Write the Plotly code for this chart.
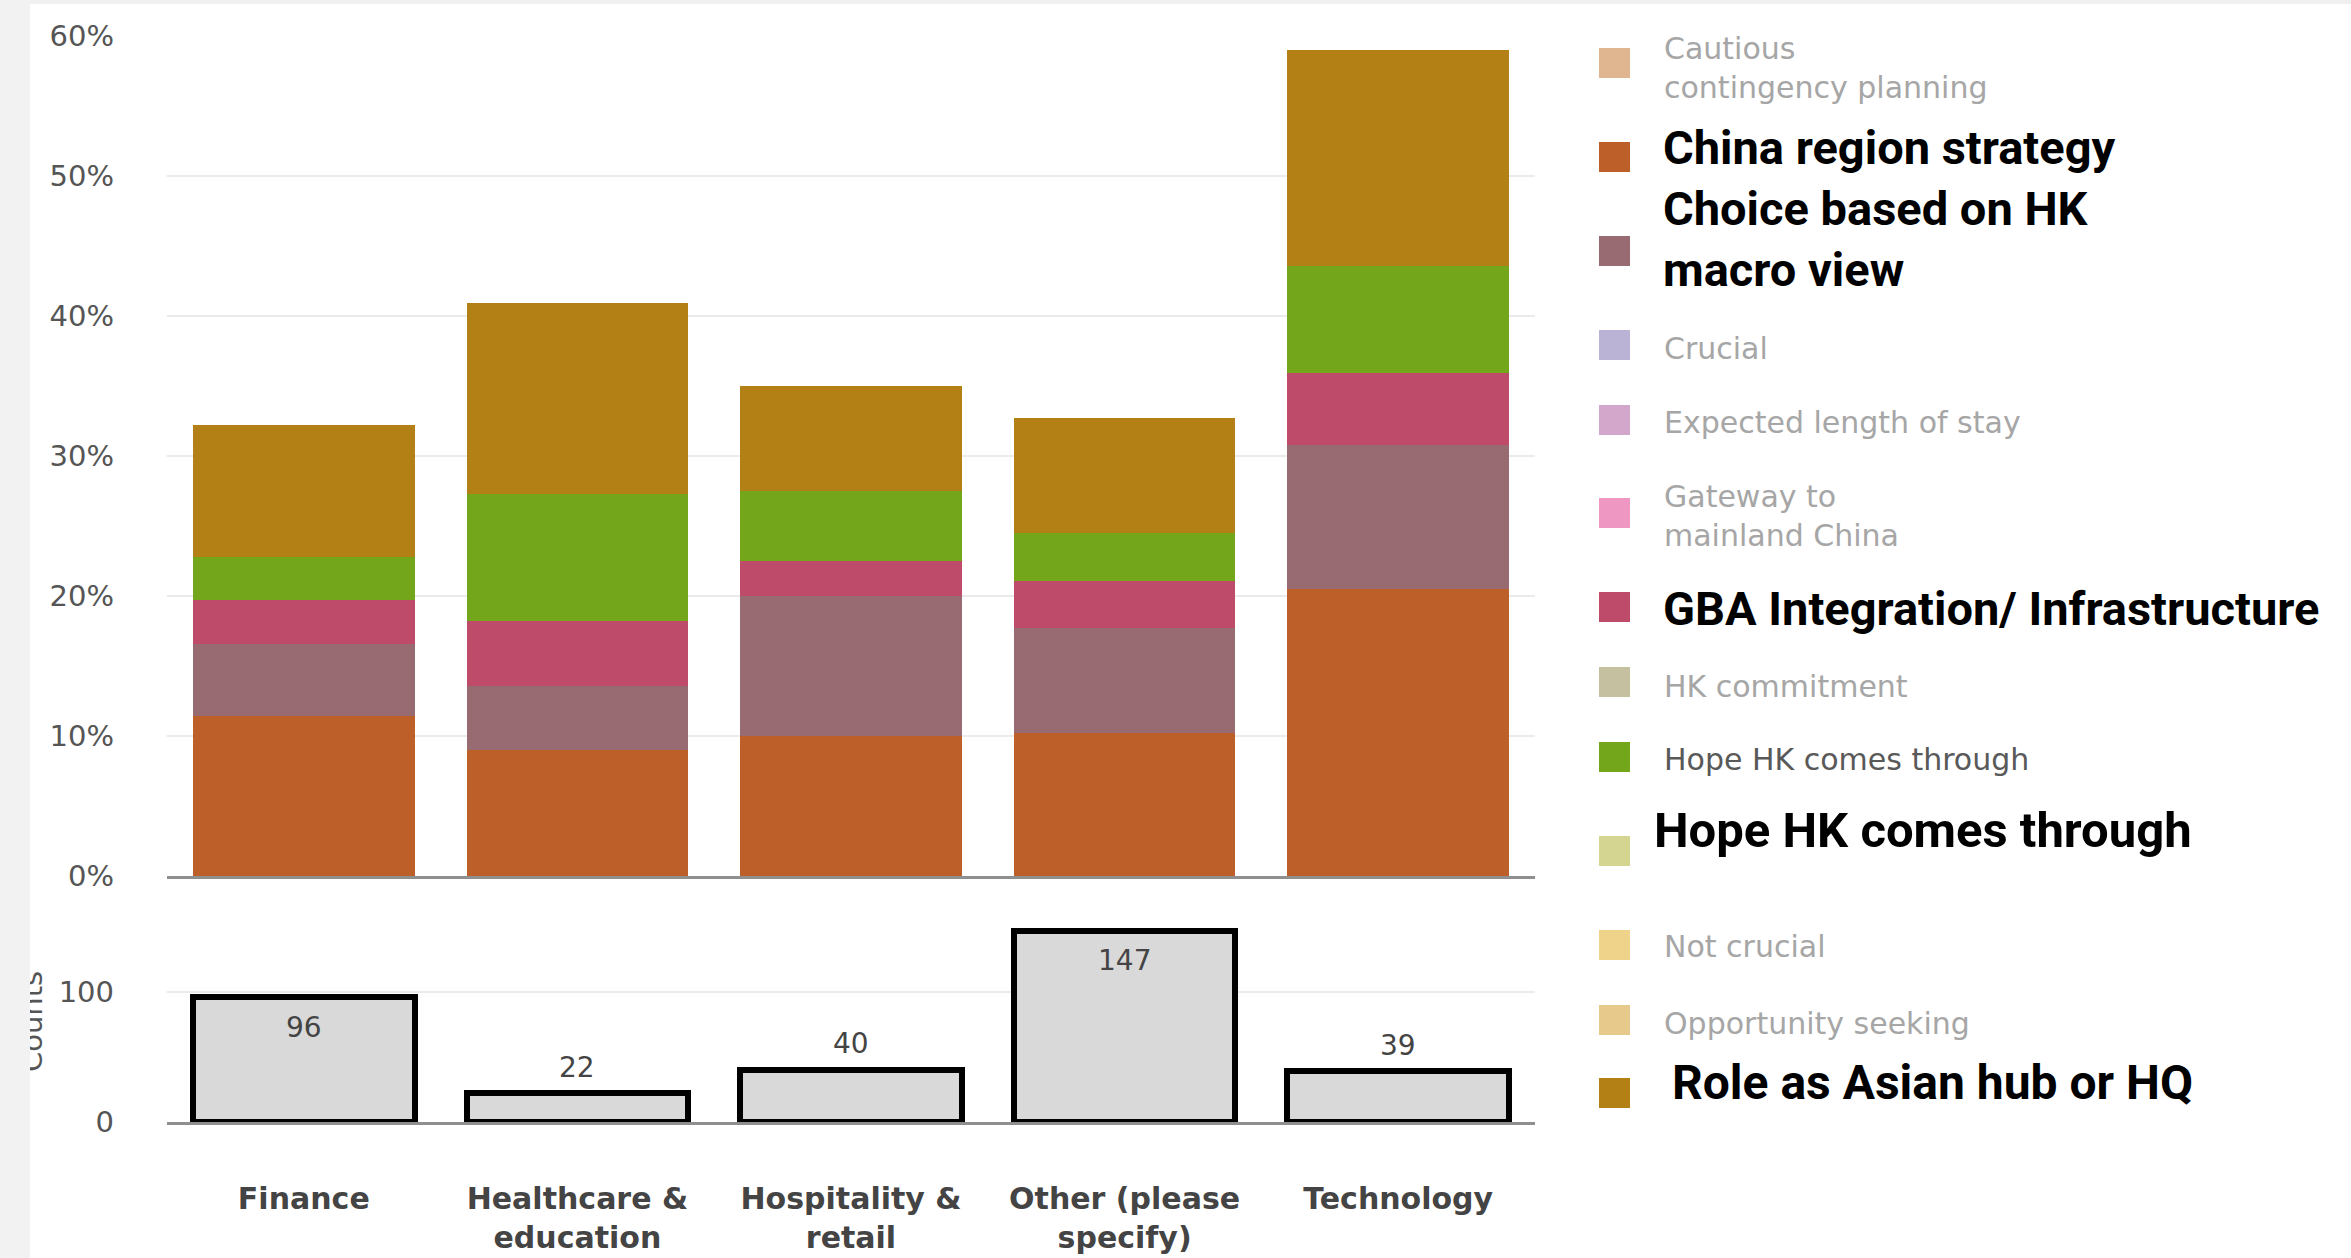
import plotly.graph_objects as go

# ---------------- data ----------------
categories = ["Finance", "Healthcare & education", "Hospitality & retail",
              "Other (please specify)", "Technology"]
tick_labels = ["Finance", "Healthcare &<br>education", "Hospitality &<br>retail",
               "Other (please<br>specify)", "Technology"]

china_region_strategy = [11.4, 9.0, 10.0, 10.2, 20.5]
choice_hk_macro = [5.2, 4.6, 10.0, 7.5, 10.3]
gba_integration = [3.1, 4.6, 2.5, 3.4, 5.1]
hope_hk = [3.1, 9.1, 5.0, 3.4, 7.7]
role_asian_hub = [9.4, 13.6, 7.5, 8.2, 15.4]
counts = [96, 22, 40, 147, 39]

series_names = ["China region strategy", "Choice based on HK macro view",
                "GBA Integration/ Infrastructure", "Hope HK comes through",
                "Role as Asian hub or HQ"]
series_values = [china_region_strategy, choice_hk_macro, gba_integration,
                 hope_hk, role_asian_hub]
series_colors = ["#bd5f28", "#986a72", "#bf4b6a", "#74a61b", "#b38016"]

legend_labels = ["Cautious<br>contingency planning", "China region strategy",
                 "Choice based on HK<br>macro view", "Crucial",
                 "Expected length of stay", "Gateway to<br>mainland China",
                 "GBA Integration/ Infrastructure", "HK commitment",
                 "Hope HK comes through", "Hope HK comes through",
                 "Not crucial", "Opportunity seeking", "Role as Asian hub or HQ"]
legend_colors = ["#dfb68f", "#bd5f28", "#986a72", "#bab3d6", "#d2a7cb", "#ee97c3",
                 "#bf4b6a", "#c5c09f", "#74a61b", "#d3d590", "#f0d38a", "#e8c98c",
                 "#b38016"]

# ---------------- layout geometry (pixels) ----------------
W, H = 2351, 1258
L, R, T, B = 167, 1535, 36, 1122
PW, PH = R - L, B - T


def px_x(px):
    return (px - L) / PW


def px_y(py):
    return (B - py) / PH


# legend styling (separate from data)
legend_swatch_y = [63, 157, 251, 345, 420, 513, 607, 682, 757, 851, 945, 1020, 1093]
legend_text_y = [68, 147, 239, 348, 422, 516, 608, 686, 759, 830, 946, 1023, 1082]
legend_text_x = [1663, 1662, 1662, 1663, 1663, 1663, 1662, 1663, 1663, 1653, 1663, 1663, 1671]
legend_style = ["muted", "bold", "bold", "muted", "muted", "muted", "bold", "muted",
                "dark", "bold", "muted", "muted", "bold"]
bold_sizes = {1: 47, 2: 47, 6: 47, 9: 49, 12: 48}

fig = go.Figure()

for name, vals, col in zip(series_names, series_values, series_colors):
    fig.add_trace(go.Bar(
        x=categories, y=vals, name=name, marker=dict(color=col, line=dict(width=0)),
        xaxis="x", yaxis="y", showlegend=False,
        hovertemplate="%{x}<br>" + name + ": %{y:.1f}%<extra></extra>"))

fig.add_trace(go.Bar(
    x=categories, y=counts, name="Counts", xaxis="x2", yaxis="y2", showlegend=False,
    marker=dict(color="#d9d9d9", line=dict(color="#000000", width=6)),
    hovertemplate="%{x}: %{y}<extra></extra>"))

tickfont = dict(family="DejaVu Sans", size=29, color="#555555")

fig.update_layout(
    width=W, height=H,
    margin=dict(l=L, r=W - R, t=T, b=H - B, autoexpand=False),
    paper_bgcolor="#ffffff", plot_bgcolor="#ffffff",
    barmode="stack", bargap=0.19,
    showlegend=False,
    xaxis=dict(domain=[0, 1], anchor="y", categoryorder="array", categoryarray=categories,
               showticklabels=False, showline=True, linecolor="#8f8f8f", linewidth=3,
               showgrid=False, ticks="", automargin=False),
    yaxis=dict(domain=[px_y(876), 1], anchor="x", range=[0, 60], dtick=10,
               ticksuffix="%", tickfont=tickfont, gridcolor="#ebebeb", gridwidth=2,
               zeroline=False, showline=False, ticklabelstandoff=52, automargin=False),
    xaxis2=dict(domain=[0, 1], anchor="y2", categoryorder="array", categoryarray=categories,
                tickvals=categories, ticktext=tick_labels, showline=True,
                linecolor="#8f8f8f", linewidth=3, showgrid=False, ticks="",
                tickfont=dict(family="DejaVu Sans", size=30, color="#444444", weight="bold"),
                ticklabelstandoff=48, automargin=False),
    yaxis2=dict(domain=[0, px_y(925)], anchor="x2", range=[0, 151.5], tickvals=[0, 100],
                tickfont=tickfont, gridcolor="#ebebeb", gridwidth=2, zeroline=False,
                showline=False, ticklabelstandoff=52, automargin=False),
)

annotations = []
shapes = []

# count labels placed on the bars through the data axes
count_label_inside = [True, False, False, True, False]
for cat, c, inside in zip(categories, counts, count_label_inside):
    annotations.append(dict(text=str(c), xref="x2", yref="y2", x=cat, y=c,
                            yanchor="middle", yshift=-30 if inside else 26,
                            showarrow=False, borderpad=0,
                            font=dict(family="DejaVu Sans", size=28, color="#444444")))

# legend (manual, to match swatch size and mixed typography)
for i, (lab, col) in enumerate(zip(legend_labels, legend_colors)):
    sy = legend_swatch_y[i]
    shapes.append(dict(type="rect", xref="paper", yref="paper",
                       x0=px_x(1599), x1=px_x(1630), y0=px_y(sy + 15), y1=px_y(sy - 15),
                       fillcolor=col, line=dict(width=0), layer="above"))
    st = legend_style[i]
    if st == "bold":
        font = dict(family="Roboto, Liberation Sans, sans-serif", size=bold_sizes[i],
                    color="#000000", weight="bold")
    elif st == "dark":
        font = dict(family="DejaVu Sans", size=30, color="#595959")
    else:
        font = dict(family="DejaVu Sans", size=30, color="#a6a6a6")
    annotations.append(dict(text=lab, xref="paper", yref="paper",
                            x=px_x(legend_text_x[i]), y=px_y(legend_text_y[i]),
                            xanchor="left", yanchor="middle", align="left",
                            showarrow=False, font=font, borderpad=0))

# y-axis title of the counts panel (partly hidden by the page strip)
annotations.append(dict(text="Counts", textangle=-90, xref="paper", yref="paper",
                        x=px_x(50), y=px_y(1021), xanchor="right", yanchor="middle",
                        showarrow=False, borderpad=0,
                        font=dict(family="DejaVu Sans", size=29, color="#555555")))
# light page strip at the left edge, drawn over the title
annotations.append(dict(text=" ", xref="paper", yref="paper", x=px_x(0), y=px_y(0),
                        xanchor="left", yanchor="top", width=30, height=H,
                        bgcolor="#f2f2f2", borderpad=0, borderwidth=0, showarrow=False))
# faint band at the top edge
shapes.append(dict(type="rect", xref="paper", yref="paper", x0=px_x(0), x1=px_x(W),
                   y0=px_y(4), y1=px_y(0), fillcolor="#f0f0f0", line=dict(width=0),
                   layer="above"))

fig.update_layout(annotations=annotations, shapes=shapes)

fig.write_html("out.html", config={"displayModeBar": False})
